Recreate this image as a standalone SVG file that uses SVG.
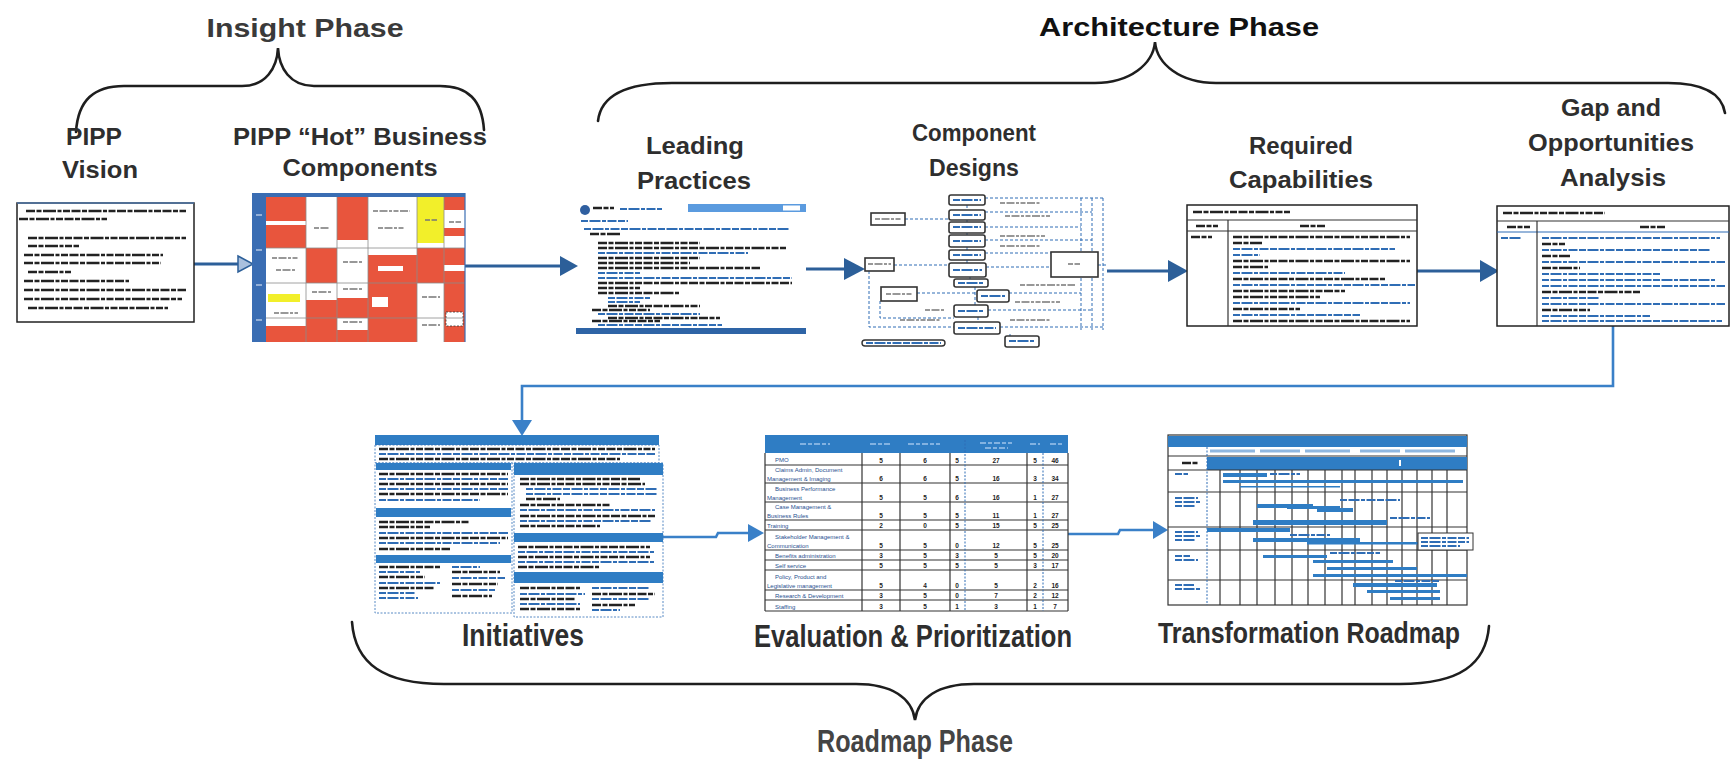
<svg xmlns="http://www.w3.org/2000/svg" width="1736" height="759" viewBox="0 0 1736 759">
<defs>
<style>
.lbl{font-family:"Liberation Sans",Arial,sans-serif;font-weight:bold;text-anchor:middle;fill:#2e2e2e}
.ph{font-family:"Liberation Sans",Arial,sans-serif;font-weight:bold;text-anchor:middle}
.brace{fill:none;stroke:#1e1e1e;stroke-width:2.6;stroke-linecap:round}
.c1{fill:none;stroke:#2c5f99;stroke-width:3}
.c2{fill:none;stroke:#3a80c8;stroke-width:2.6}
.h1{fill:#2c5f99}
.h2{fill:#3a80c8}
.tk{stroke:#222;stroke-width:2.4;stroke-dasharray:9 1.5 5 1.5 13 1.5 4 1.5 7 1.5}
.tb{stroke:#2f6db5;stroke-width:2.2;stroke-dasharray:7 1.5 11 1.5 4 1.5 9 1.5}
.tg{stroke:#777;stroke-width:1.6;stroke-dasharray:5 1.5 8 1.5 3 1.5}
.tw{stroke:#9fc3ea;stroke-width:1.6;stroke-dasharray:6 2 4 2}
.frame{fill:#fff;stroke:#222;stroke-width:1.5}
.grid{stroke:#333;stroke-width:1.2}
.dgrid{stroke:#2f6db5;stroke-width:1;stroke-dasharray:2 1.5}
.bb{fill:#2f7dc4}
.red{fill:#e8553d}
.yel{fill:#f2ef2a}
.box{fill:#fff;stroke:#333;stroke-width:1.6}
.dl{fill:none;stroke:#2f6db5;stroke-width:1;stroke-dasharray:3 2}
.num{font-family:"Liberation Sans",Arial,sans-serif;font-size:6.5px;font-weight:bold;fill:#1d1d1d;text-anchor:middle}
.rn{font-family:"Liberation Sans",Arial,sans-serif;font-size:6px;fill:#1f4f8f}
</style>
</defs>
<rect width="1736" height="759" fill="#fff"/>

<!-- Phase braces and titles -->
<g id="insight-phase">
<text class="ph" x="305" y="37" font-size="26" fill="#3a3a3a" textLength="197" lengthAdjust="spacingAndGlyphs">Insight Phase</text>
<path class="brace" d="M76,132 C78,100 94,86 124,86 L242,86 C266,86 277,68 278,48 C279,68 290,86 314,86 L440,86 C468,86 482,100 484,130"/>
</g>
<g id="architecture-phase">
<text class="ph" x="1179" y="36" font-size="26" fill="#111" textLength="280" lengthAdjust="spacingAndGlyphs">Architecture Phase</text>
<path class="brace" d="M598,121 C601,95 626,83 672,83 L1095,83 C1130,83 1153,64 1155,42 C1157,64 1180,83 1216,83 L1668,83 C1705,83 1722,95 1725,113"/>
</g>
<g id="roadmap-phase">
<path class="brace" d="M352,622 C355,664 384,684 444,684 L856,684 C892,684 912,698 915,720 C918,698 938,684 974,684 L1400,684 C1460,684 1486,664 1489,626"/>
<text class="ph" x="915" y="752" font-size="32" fill="#444" textLength="196" lengthAdjust="spacingAndGlyphs">Roadmap Phase</text>
</g>

<!-- Connectors -->
<g id="connectors">
<line class="c1" x1="194" y1="264" x2="240" y2="264"/>
<polygon points="238,256 253,264 238,272" fill="#a9c0de" stroke="#2c5f99" stroke-width="1.5"/>
<line class="c1" x1="465" y1="266" x2="562" y2="266"/>
<polygon class="h1" points="560,256 578,266 560,276"/>
<line class="c1" x1="806" y1="269" x2="846" y2="269"/>
<polygon class="h1" points="844,258 865,269 844,280"/>
<line class="c1" x1="1107" y1="271" x2="1170" y2="271"/>
<polygon class="h1" points="1168,260 1188,271 1168,282"/>
<line class="c1" x1="1417" y1="271" x2="1482" y2="271"/>
<polygon class="h1" points="1480,260 1499,271 1480,282"/>
<path class="c2" d="M1613,326 V386 H522 V422"/>
<polygon class="h2" points="512,420 522,436 532,420"/>
<path class="c2" d="M663,537 H716 L718,533 H750"/>
<polygon class="h2" points="748,524 764,533 748,542"/>
<path class="c2" d="M1068,534 H1118 L1120,530 H1155"/>
<polygon class="h2" points="1153,521 1168,530 1153,539"/>
</g>

<!-- PIPP Vision -->
<g id="pipp-vision">
<text class="lbl" x="94" y="145" font-size="24" textLength="56" lengthAdjust="spacingAndGlyphs">PIPP</text>
<text class="lbl" x="100" y="178" font-size="24" textLength="76" lengthAdjust="spacingAndGlyphs">Vision</text>
<rect class="frame" x="17" y="203" width="177" height="119"/>
<line x1="17" y1="203" x2="194" y2="203" stroke="#5078aa" stroke-width="1.5"/>
<line class="tk" x1="26" y1="211" x2="186" y2="211"/>
<line class="tk" x1="19" y1="219" x2="107" y2="219"/>
<line class="tk" x1="28" y1="238" x2="186" y2="238"/>
<line class="tk" x1="28" y1="246" x2="79" y2="246"/>
<line class="tk" x1="24" y1="255" x2="163" y2="255"/>
<line class="tk" x1="24" y1="263" x2="161" y2="263"/>
<line class="tk" x1="28" y1="272" x2="71" y2="272"/>
<line class="tk" x1="24" y1="281" x2="129" y2="281"/>
<line class="tk" x1="24" y1="290" x2="186" y2="290"/>
<line class="tk" x1="24" y1="299" x2="182" y2="299"/>
<line class="tk" x1="28" y1="308" x2="168" y2="308"/>
</g>

<!-- PIPP Hot Business Components -->
<g id="pipp-hot-components">
<text class="lbl" x="360" y="145" font-size="24" textLength="254" lengthAdjust="spacingAndGlyphs">PIPP “Hot” Business</text>
<text class="lbl" x="360" y="176" font-size="24" textLength="155" lengthAdjust="spacingAndGlyphs">Components</text>
<rect x="252" y="193" width="213" height="149" fill="#fff"/>
<rect class="red" x="266" y="197" width="40" height="51"/>
<rect x="266" y="221" width="40" height="4" fill="#fff"/>
<rect class="red" x="337" y="197" width="31" height="43"/>
<rect class="yel" x="417" y="197" width="27" height="46"/>
<rect class="red" x="444" y="197" width="21" height="13"/>
<rect class="red" x="444" y="228" width="21" height="8"/>
<rect class="red" x="306" y="248" width="31" height="35"/>
<rect class="red" x="368" y="255" width="49" height="28"/>
<rect class="red" x="417" y="248" width="27" height="35"/>
<rect class="red" x="444" y="248" width="21" height="17"/>
<rect class="red" x="444" y="271" width="21" height="12"/>
<rect x="378" y="266" width="25" height="5" fill="#fff"/>
<rect class="yel" x="268" y="294" width="32" height="8"/>
<rect class="red" x="306" y="300" width="31" height="18"/>
<rect class="red" x="337" y="298" width="31" height="20"/>
<rect class="red" x="368" y="283" width="49" height="35"/>
<rect x="372" y="297" width="16" height="10" fill="#fff"/>
<rect class="red" x="444" y="283" width="21" height="35"/>
<rect class="red" x="266" y="326" width="40" height="16"/>
<rect class="red" x="306" y="318" width="31" height="24"/>
<rect class="red" x="337" y="330" width="31" height="12"/>
<rect class="red" x="368" y="318" width="49" height="24"/>
<rect class="red" x="444" y="318" width="21" height="24"/>
<rect x="446" y="312" width="17" height="14" fill="#fff" stroke="#333" stroke-width="0.8" stroke-dasharray="2 1.5"/>
<g stroke="#8a8a8a" stroke-width="0.8">
<line x1="306" y1="197" x2="306" y2="342"/><line x1="337" y1="197" x2="337" y2="342"/>
<line x1="368" y1="197" x2="368" y2="342"/><line x1="417" y1="197" x2="417" y2="342"/>
<line x1="444" y1="197" x2="444" y2="342"/>
<line x1="266" y1="248" x2="465" y2="248"/><line x1="266" y1="283" x2="465" y2="283"/>
<line x1="266" y1="318" x2="465" y2="318"/>
</g>
<g class="tg">
<line x1="314" y1="228" x2="330" y2="228"/><line x1="373" y1="211" x2="410" y2="211"/><line x1="378" y1="228" x2="405" y2="228"/>
<line x1="272" y1="258" x2="298" y2="258"/><line x1="276" y1="270" x2="296" y2="270"/><line x1="343" y1="262" x2="362" y2="262"/>
<line x1="422" y1="297" x2="440" y2="297"/><line x1="422" y1="325" x2="440" y2="325"/><line x1="343" y1="289" x2="362" y2="289"/>
<line x1="274" y1="313" x2="298" y2="313"/><line x1="312" y1="292" x2="332" y2="292"/><line x1="343" y1="322" x2="362" y2="322"/>
<line x1="425" y1="220" x2="437" y2="220"/><line x1="449" y1="222" x2="461" y2="222"/>
</g>
<rect x="252" y="193" width="213" height="4" fill="#3a6db3"/>
<rect x="252" y="193" width="14" height="149" fill="#3a6db3"/>
<g stroke="#cfdcef" stroke-width="1.2"><line x1="256" y1="215" x2="262" y2="215"/><line x1="256" y1="250" x2="262" y2="250"/><line x1="256" y1="285" x2="262" y2="285"/><line x1="256" y1="320" x2="262" y2="320"/></g>
<line x1="465" y1="193" x2="465" y2="342" stroke="#3a6db3" stroke-width="1.2"/>
</g>

<!-- Leading Practices -->
<g id="leading-practices">
<text class="lbl" x="695" y="154" font-size="24" textLength="98" lengthAdjust="spacingAndGlyphs">Leading</text>
<text class="lbl" x="694" y="189" font-size="24" textLength="114" lengthAdjust="spacingAndGlyphs">Practices</text>
<circle cx="585" cy="210" r="5" fill="#2f5fa0"/>
<line class="tk" x1="593" y1="208" x2="614" y2="208" stroke-width="1.6"/>
<line class="tb" x1="620" y1="209" x2="662" y2="209" stroke-width="1.6"/>
<rect x="688" y="204" width="118" height="8" fill="#5b9bdf"/>
<rect x="783" y="205.5" width="17" height="5" fill="#fff"/>
<line class="tb" x1="581" y1="221" x2="628" y2="221" stroke-width="2.4"/>
<line class="tb" x1="584" y1="229" x2="790" y2="229"/>
<line class="tk" x1="590" y1="234" x2="620" y2="234" stroke-width="1.6"/>
<g>
<line class="tk" x1="598" y1="243" x2="700" y2="243" stroke-width="1.7"/>
<line class="tk" x1="598" y1="248" x2="786" y2="248" stroke-width="1.7"/>
<line class="tb" x1="598" y1="253" x2="748" y2="253" stroke-width="1.7"/>
<line class="tk" x1="598" y1="258" x2="700" y2="258" stroke-width="1.7"/>
<line class="tk" x1="598" y1="263" x2="690" y2="263" stroke-width="1.7"/>
<line class="tk" x1="598" y1="268" x2="760" y2="268" stroke-width="1.7"/>
<line class="tb" x1="598" y1="273" x2="640" y2="273" stroke-width="1.7"/>
<line class="tb" x1="598" y1="278" x2="792" y2="278" stroke-width="1.7"/>
<line class="tk" x1="598" y1="283" x2="792" y2="283" stroke-width="1.7"/>
<line class="tk" x1="598" y1="288" x2="640" y2="288" stroke-width="1.7"/>
<line class="tk" x1="598" y1="293" x2="680" y2="293" stroke-width="1.7"/>
<line class="tb" x1="608" y1="298" x2="650" y2="298" stroke-width="1.7"/>
<line class="tb" x1="608" y1="302" x2="640" y2="302" stroke-width="1.7"/>
<line class="tk" x1="608" y1="306" x2="700" y2="306" stroke-width="1.7"/>
<line class="tk" x1="592" y1="310" x2="650" y2="310" stroke-width="1.7"/>
<line class="tb" x1="598" y1="314" x2="700" y2="314" stroke-width="1.7"/>
<line class="tk" x1="608" y1="318" x2="720" y2="318" stroke-width="1.7"/>
<line class="tk" x1="592" y1="321" x2="660" y2="321" stroke-width="1.7"/>
<line class="tb" x1="598" y1="325" x2="722" y2="325" stroke-width="1.7"/>
</g>
<rect x="576" y="328" width="230" height="6" fill="#2e64a6"/>
</g>

<!-- Component Designs -->
<g id="component-designs">
<text class="lbl" x="974" y="141" font-size="24" textLength="124" lengthAdjust="spacingAndGlyphs">Component</text>
<text class="lbl" x="974" y="176" font-size="24" textLength="90" lengthAdjust="spacingAndGlyphs">Designs</text>
<g class="dl">
<path d="M985,198 H1103 M985,212 H1092 M985,227 H1081 M985,240 H1092 M985,253 H1051 M986,267 H1051 M1009,293 H1081 M988,310 H1092 M1000,327 H1103"/>
<path d="M1081,198 V330 M1092,198 V330 M1103,198 V330"/>
<path d="M905,219 H949 M894,265 H949 M917,293 H977 M869,271 V327 H954 M880,301 V318 H954"/>
<path d="M967,205 V210 M967,220 V222 M967,233 V235 M967,247 V250 M967,260 V263 M970,277 V279 M975,287 V305 M978,317 V322 M1010,334 V336"/>
<path d="M1098,265 H1107"/>
</g>
<rect class="box" x="949" y="195" width="36" height="10" rx="2"/>
<rect class="box" x="949" y="210" width="36" height="10" rx="2"/>
<rect class="box" x="949" y="222" width="36" height="11" rx="2"/>
<rect class="box" x="949" y="235" width="36" height="12" rx="2"/>
<rect class="box" x="949" y="250" width="36" height="10" rx="2"/>
<rect class="box" x="949" y="263" width="37" height="14" rx="2"/>
<rect class="box" x="954" y="279" width="34" height="8" rx="2"/>
<rect class="box" x="977" y="290" width="32" height="12" rx="2"/>
<rect class="box" x="954" y="305" width="34" height="12" rx="2"/>
<rect class="box" x="954" y="322" width="46" height="12" rx="2"/>
<rect class="box" x="1005" y="336" width="34" height="11" rx="2"/>
<rect class="box" x="871" y="213" width="34" height="12"/>
<rect class="box" x="865" y="258" width="29" height="13"/>
<rect class="box" x="881" y="287" width="36" height="14"/>
<rect class="box" x="1051" y="252" width="47" height="25"/>
<rect x="862" y="340" width="83" height="6" rx="3" fill="#fff" stroke="#333" stroke-width="1.4"/>
<g class="tb" stroke-width="1.2">
<line x1="953" y1="200" x2="981" y2="200"/><line x1="953" y1="215" x2="981" y2="215"/><line x1="953" y1="227" x2="981" y2="227"/>
<line x1="953" y1="241" x2="981" y2="241"/><line x1="953" y1="255" x2="981" y2="255"/><line x1="953" y1="270" x2="982" y2="270"/>
<line x1="958" y1="283" x2="984" y2="283"/><line x1="981" y1="296" x2="1005" y2="296"/><line x1="958" y1="311" x2="984" y2="311"/>
<line x1="958" y1="328" x2="996" y2="328"/><line x1="1009" y1="341" x2="1035" y2="341"/><line x1="866" y1="343" x2="941" y2="343"/>
</g>
<g class="tg" stroke-width="1.2">
<line x1="875" y1="219" x2="901" y2="219"/><line x1="868" y1="264" x2="891" y2="264"/><line x1="886" y1="294" x2="912" y2="294"/>
<line x1="1068" y1="264" x2="1080" y2="264"/>
<line x1="1000" y1="203" x2="1040" y2="203"/><line x1="1005" y1="216" x2="1050" y2="216"/><line x1="1000" y1="236" x2="1045" y2="236"/>
<line x1="1000" y1="246" x2="1040" y2="246"/><line x1="1020" y1="285" x2="1075" y2="285"/><line x1="1015" y1="302" x2="1060" y2="302"/>
<line x1="925" y1="310" x2="945" y2="310"/><line x1="900" y1="320" x2="940" y2="320"/><line x1="1010" y1="320" x2="1050" y2="320"/>
</g>
</g>

<!-- Required Capabilities -->
<g id="required-capabilities">
<text class="lbl" x="1301" y="154" font-size="24" textLength="104" lengthAdjust="spacingAndGlyphs">Required</text>
<text class="lbl" x="1301" y="188" font-size="24" textLength="144" lengthAdjust="spacingAndGlyphs">Capabilities</text>
<rect class="frame" x="1187" y="205" width="230" height="121"/>
<line class="tk" x1="1193" y1="212" x2="1290" y2="212" stroke-width="1.8"/>
<line class="grid" x1="1187" y1="220" x2="1417" y2="220" stroke-width="2"/>
<line class="tk" x1="1196" y1="226" x2="1218" y2="226" stroke-width="1.6"/>
<line class="tk" x1="1300" y1="226" x2="1325" y2="226" stroke-width="1.6"/>
<line class="grid" x1="1187" y1="231" x2="1417" y2="231"/>
<line class="grid" x1="1228" y1="220" x2="1228" y2="326"/>
<line class="tk" x1="1191" y1="237" x2="1212" y2="237" stroke-width="1.5"/>
<g>
<line class="tk" x1="1233" y1="237" x2="1410" y2="237" stroke-width="1.6"/>
<line class="tk" x1="1233" y1="243" x2="1262" y2="243" stroke-width="1.6"/>
<line class="tb" x1="1233" y1="249" x2="1395" y2="249" stroke-width="1.6"/>
<line class="tb" x1="1233" y1="255" x2="1260" y2="255" stroke-width="1.6"/>
<line class="tk" x1="1233" y1="261" x2="1410" y2="261" stroke-width="1.6"/>
<line class="tk" x1="1233" y1="267" x2="1268" y2="267" stroke-width="1.6"/>
<line class="tb" x1="1233" y1="273" x2="1345" y2="273" stroke-width="1.6"/>
<line class="tk" x1="1233" y1="279" x2="1385" y2="279" stroke-width="1.6"/>
<line class="tb" x1="1233" y1="285" x2="1415" y2="285" stroke-width="1.6"/>
<line class="tk" x1="1233" y1="291" x2="1345" y2="291" stroke-width="1.6"/>
<line class="tk" x1="1233" y1="297" x2="1320" y2="297" stroke-width="1.6"/>
<line class="tb" x1="1233" y1="303" x2="1410" y2="303" stroke-width="1.6"/>
<line class="tk" x1="1233" y1="309" x2="1300" y2="309" stroke-width="1.6"/>
<line class="tb" x1="1233" y1="315" x2="1360" y2="315" stroke-width="1.6"/>
<line class="tk" x1="1233" y1="321" x2="1410" y2="321" stroke-width="1.6"/>
</g>
</g>

<!-- Gap and Opportunities Analysis -->
<g id="gap-opportunities">
<text class="lbl" x="1611" y="116" font-size="24" fill="#111" textLength="100" lengthAdjust="spacingAndGlyphs">Gap and</text>
<text class="lbl" x="1611" y="151" font-size="24" textLength="166" lengthAdjust="spacingAndGlyphs">Opportunities</text>
<text class="lbl" x="1613" y="186" font-size="24" textLength="106" lengthAdjust="spacingAndGlyphs">Analysis</text>
<rect class="frame" x="1497" y="206" width="232" height="120"/>
<line class="tk" x1="1503" y1="213" x2="1605" y2="213" stroke-width="1.8"/>
<line class="grid" x1="1497" y1="221" x2="1729" y2="221" stroke-width="2"/>
<line class="tk" x1="1507" y1="227" x2="1530" y2="227" stroke-width="1.6"/>
<line class="tk" x1="1640" y1="227" x2="1665" y2="227" stroke-width="1.6"/>
<line x1="1497" y1="232" x2="1729" y2="232" stroke="#2f6db5" stroke-width="1.2"/>
<line class="grid" x1="1537" y1="221" x2="1537" y2="326"/>
<line class="tb" x1="1501" y1="238" x2="1522" y2="238" stroke-width="1.5"/>
<g>
<line class="tb" x1="1542" y1="238" x2="1720" y2="238" stroke-width="1.6"/>
<line class="tk" x1="1542" y1="244" x2="1565" y2="244" stroke-width="1.6"/>
<line class="tb" x1="1542" y1="250" x2="1710" y2="250" stroke-width="1.6"/>
<line class="tk" x1="1542" y1="256" x2="1570" y2="256" stroke-width="1.6"/>
<line class="tb" x1="1542" y1="262" x2="1725" y2="262" stroke-width="1.6"/>
<line class="tk" x1="1542" y1="268" x2="1580" y2="268" stroke-width="1.6"/>
<line class="tb" x1="1542" y1="274" x2="1660" y2="274" stroke-width="1.6"/>
<line class="tb" x1="1542" y1="280" x2="1715" y2="280" stroke-width="1.6"/>
<line class="tb" x1="1542" y1="286" x2="1725" y2="286" stroke-width="1.6"/>
<line class="tk" x1="1542" y1="292" x2="1640" y2="292" stroke-width="1.6"/>
<line class="tb" x1="1542" y1="298" x2="1600" y2="298" stroke-width="1.6"/>
<line class="tb" x1="1542" y1="304" x2="1725" y2="304" stroke-width="1.6"/>
<line class="tk" x1="1542" y1="310" x2="1590" y2="310" stroke-width="1.6"/>
<line class="tb" x1="1542" y1="316" x2="1650" y2="316" stroke-width="1.6"/>
<line class="tb" x1="1542" y1="321" x2="1722" y2="321" stroke-width="1.6"/>
</g>
</g>

<!-- Initiatives -->
<g id="initiatives">
<rect x="375" y="435" width="284" height="10" fill="#2f7dc4"/>
<rect x="375" y="445" width="284" height="18" fill="#fff" stroke="#2f6db5" stroke-width="0.8" stroke-dasharray="2 1.5"/>
<line class="tk" x1="379" y1="449" x2="655" y2="449" stroke-width="1.4"/>
<line class="tb" x1="379" y1="454" x2="655" y2="454" stroke-width="1.4"/>
<line class="tk" x1="379" y1="459" x2="620" y2="459" stroke-width="1.4"/>
<rect x="375" y="463" width="137" height="150" fill="#fff" stroke="#2f6db5" stroke-width="0.8" stroke-dasharray="2 1.5"/>
<rect x="514" y="463" width="149" height="154" fill="#fff" stroke="#2f6db5" stroke-width="0.8" stroke-dasharray="2 1.5"/>
<rect x="376" y="463" width="135" height="7" fill="#2f7dc4"/>
<rect x="376" y="508" width="135" height="9" fill="#2f7dc4"/>
<rect x="376" y="555" width="135" height="8" fill="#2f7dc4"/>
<rect x="514" y="463" width="149" height="12" fill="#2f7dc4"/>
<rect x="514" y="533" width="149" height="9" fill="#2f7dc4"/>
<rect x="514" y="572" width="149" height="11" fill="#2f7dc4"/>
<g>
<line class="tk" x1="379" y1="474" x2="508" y2="474" stroke-width="1.4"/>
<line class="tb" x1="379" y1="479" x2="508" y2="479" stroke-width="1.4"/>
<line class="tk" x1="379" y1="484" x2="508" y2="484" stroke-width="1.4"/>
<line class="tb" x1="379" y1="489" x2="508" y2="489" stroke-width="1.4"/>
<line class="tk" x1="379" y1="494" x2="508" y2="494" stroke-width="1.4"/>
<line class="tb" x1="379" y1="500" x2="480" y2="500" stroke-width="1.4"/>
<line class="tk" x1="379" y1="522" x2="470" y2="522" stroke-width="1.4"/>
<line class="tk" x1="379" y1="527" x2="430" y2="527" stroke-width="1.4"/>
<line class="tb" x1="379" y1="533" x2="508" y2="533" stroke-width="1.4"/>
<line class="tk" x1="379" y1="538" x2="508" y2="538" stroke-width="1.4"/>
<line class="tb" x1="379" y1="543" x2="500" y2="543" stroke-width="1.4"/>
<line class="tk" x1="379" y1="549" x2="450" y2="549" stroke-width="1.4"/>
<line class="tk" x1="379" y1="567" x2="440" y2="567" stroke-width="1.4"/>
<line class="tb" x1="379" y1="572" x2="420" y2="572" stroke-width="1.4"/>
<line class="tk" x1="379" y1="577" x2="425" y2="577" stroke-width="1.4"/>
<line class="tb" x1="379" y1="583" x2="440" y2="583" stroke-width="1.4"/>
<line class="tk" x1="379" y1="588" x2="435" y2="588" stroke-width="1.4"/>
<line class="tb" x1="379" y1="593" x2="415" y2="593" stroke-width="1.4"/>
<line class="tb" x1="379" y1="598" x2="418" y2="598" stroke-width="1.4"/>
<line class="tb" x1="452" y1="567" x2="480" y2="567" stroke-width="1.4"/>
<line class="tk" x1="452" y1="572" x2="500" y2="572" stroke-width="1.4"/>
<line class="tb" x1="452" y1="578" x2="505" y2="578" stroke-width="1.4"/>
<line class="tk" x1="452" y1="584" x2="498" y2="584" stroke-width="1.4"/>
<line class="tb" x1="452" y1="590" x2="495" y2="590" stroke-width="1.4"/>
<line class="tk" x1="452" y1="596" x2="492" y2="596" stroke-width="1.4"/>
<line class="tk" x1="520" y1="479" x2="640" y2="479" stroke-width="1.4"/>
<line class="tk" x1="520" y1="484" x2="645" y2="484" stroke-width="1.4"/>
<line class="tb" x1="526" y1="489" x2="658" y2="489" stroke-width="1.4"/>
<line class="tb" x1="526" y1="494" x2="658" y2="494" stroke-width="1.4"/>
<line class="tk" x1="526" y1="499" x2="560" y2="499" stroke-width="1.4"/>
<line class="tk" x1="520" y1="505" x2="610" y2="505" stroke-width="1.4"/>
<line class="tb" x1="520" y1="510" x2="655" y2="510" stroke-width="1.4"/>
<line class="tk" x1="520" y1="516" x2="655" y2="516" stroke-width="1.4"/>
<line class="tb" x1="520" y1="521" x2="652" y2="521" stroke-width="1.4"/>
<line class="tk" x1="520" y1="526" x2="600" y2="526" stroke-width="1.4"/>
<line class="tk" x1="518" y1="547" x2="650" y2="547" stroke-width="1.4"/>
<line class="tb" x1="518" y1="552" x2="655" y2="552" stroke-width="1.4"/>
<line class="tk" x1="518" y1="557" x2="650" y2="557" stroke-width="1.4"/>
<line class="tb" x1="518" y1="562" x2="655" y2="562" stroke-width="1.4"/>
<line class="tk" x1="518" y1="567" x2="600" y2="567" stroke-width="1.4"/>
<line class="tk" x1="520" y1="588" x2="580" y2="588" stroke-width="1.4"/>
<line class="tb" x1="520" y1="594" x2="585" y2="594" stroke-width="1.4"/>
<line class="tk" x1="520" y1="599" x2="575" y2="599" stroke-width="1.4"/>
<line class="tb" x1="520" y1="604" x2="580" y2="604" stroke-width="1.4"/>
<line class="tk" x1="520" y1="609" x2="580" y2="609" stroke-width="1.4"/>
<line class="tb" x1="592" y1="588" x2="650" y2="588" stroke-width="1.4"/>
<line class="tk" x1="592" y1="594" x2="655" y2="594" stroke-width="1.4"/>
<line class="tb" x1="592" y1="599" x2="650" y2="599" stroke-width="1.4"/>
<line class="tk" x1="592" y1="605" x2="635" y2="605" stroke-width="1.4"/>
<line class="tb" x1="592" y1="610" x2="620" y2="610" stroke-width="1.4"/>
</g>
<text class="lbl" x="523" y="646" font-size="31" fill="#111" textLength="122" lengthAdjust="spacingAndGlyphs">Initiatives</text>
</g>

<!-- Evaluation & Prioritization -->
<g id="evaluation-prioritization">
<rect x="765" y="435" width="303" height="18" fill="#2f7dc4"/>
<g class="tw">
<line x1="800" y1="444" x2="830" y2="444"/><line x1="870" y1="444" x2="892" y2="444"/><line x1="908" y1="444" x2="940" y2="444"/>
<line x1="980" y1="443" x2="1012" y2="443"/><line x1="985" y1="448" x2="1008" y2="448"/><line x1="1030" y1="444" x2="1040" y2="444"/><line x1="1050" y1="444" x2="1062" y2="444"/>
</g>
<rect x="765" y="453" width="303" height="158" fill="#fff"/>
<g class="grid">
<line x1="765" y1="465" x2="1068" y2="465"/><line x1="765" y1="483" x2="1068" y2="483"/><line x1="765" y1="502" x2="1068" y2="502"/>
<line x1="765" y1="520" x2="1068" y2="520"/><line x1="765" y1="530" x2="1068" y2="530"/><line x1="765" y1="550" x2="1068" y2="550"/>
<line x1="765" y1="560" x2="1068" y2="560"/><line x1="765" y1="570" x2="1068" y2="570"/><line x1="765" y1="590" x2="1068" y2="590"/>
<line x1="765" y1="600" x2="1068" y2="600"/><line x1="765" y1="611" x2="1068" y2="611"/>
<line x1="765" y1="453" x2="765" y2="611"/><line x1="862" y1="453" x2="862" y2="611"/><line x1="900" y1="453" x2="900" y2="611"/>
<line x1="950" y1="453" x2="950" y2="611"/><line x1="1027" y1="453" x2="1027" y2="611"/><line x1="1068" y1="453" x2="1068" y2="611"/>
</g>
<g class="dgrid"><line x1="965" y1="440" x2="965" y2="611"/><line x1="1043" y1="453" x2="1043" y2="611"/></g>
<text class="rn" x="775" y="462">PMO</text>
<text class="rn" x="775" y="472">Claims Admin, Document</text>
<text class="rn" x="767" y="481">Management &amp; Imaging</text>
<text class="rn" x="775" y="491">Business Performance</text>
<text class="rn" x="767" y="500">Management</text>
<text class="rn" x="775" y="509">Case Management &amp;</text>
<text class="rn" x="767" y="518">Business Rules</text>
<text class="rn" x="767" y="528">Training</text>
<text class="rn" x="775" y="539">Stakeholder Management &amp;</text>
<text class="rn" x="767" y="548">Communication</text>
<text class="rn" x="775" y="558">Benefits administration</text>
<text class="rn" x="775" y="568">Self service</text>
<text class="rn" x="775" y="579">Policy, Product and</text>
<text class="rn" x="767" y="588">Legislative management</text>
<text class="rn" x="775" y="598">Research &amp; Development</text>
<text class="rn" x="775" y="609">Staffing</text>
<g class="num">
<text x="881" y="463">5</text><text x="925" y="463">6</text><text x="957" y="463">5</text><text x="996" y="463">27</text><text x="1035" y="463">5</text><text x="1055" y="463">46</text>
<text x="881" y="481">6</text><text x="925" y="481">6</text><text x="957" y="481">5</text><text x="996" y="481">16</text><text x="1035" y="481">3</text><text x="1055" y="481">34</text>
<text x="881" y="500">5</text><text x="925" y="500">5</text><text x="957" y="500">6</text><text x="996" y="500">16</text><text x="1035" y="500">1</text><text x="1055" y="500">27</text>
<text x="881" y="518">5</text><text x="925" y="518">5</text><text x="957" y="518">5</text><text x="996" y="518">11</text><text x="1035" y="518">1</text><text x="1055" y="518">27</text>
<text x="881" y="528">2</text><text x="925" y="528">0</text><text x="957" y="528">5</text><text x="996" y="528">15</text><text x="1035" y="528">5</text><text x="1055" y="528">25</text>
<text x="881" y="548">5</text><text x="925" y="548">5</text><text x="957" y="548">0</text><text x="996" y="548">12</text><text x="1035" y="548">5</text><text x="1055" y="548">25</text>
<text x="881" y="558">3</text><text x="925" y="558">5</text><text x="957" y="558">3</text><text x="996" y="558">5</text><text x="1035" y="558">5</text><text x="1055" y="558">20</text>
<text x="881" y="568">5</text><text x="925" y="568">5</text><text x="957" y="568">5</text><text x="996" y="568">5</text><text x="1035" y="568">3</text><text x="1055" y="568">17</text>
<text x="881" y="588">5</text><text x="925" y="588">4</text><text x="957" y="588">0</text><text x="996" y="588">5</text><text x="1035" y="588">2</text><text x="1055" y="588">16</text>
<text x="881" y="598">3</text><text x="925" y="598">5</text><text x="957" y="598">0</text><text x="996" y="598">7</text><text x="1035" y="598">2</text><text x="1055" y="598">12</text>
<text x="881" y="609">3</text><text x="925" y="609">5</text><text x="957" y="609">1</text><text x="996" y="609">3</text><text x="1035" y="609">1</text><text x="1055" y="609">7</text>
</g>
<text class="lbl" x="913" y="647" font-size="31" fill="#474747" textLength="318" lengthAdjust="spacingAndGlyphs">Evaluation &amp; Prioritization</text>
</g>

<!-- Transformation Roadmap -->
<g id="transformation-roadmap">
<rect x="1168" y="435" width="299" height="170" fill="#fff" stroke="#333" stroke-width="1.2"/>
<rect x="1168" y="436" width="299" height="11" fill="#2f7dc4"/>
<g stroke="#8fb7e0" stroke-width="3"><line x1="1210" y1="451" x2="1255" y2="451"/><line x1="1260" y1="451" x2="1300" y2="451"/><line x1="1305" y1="451" x2="1350" y2="451"/><line x1="1360" y1="451" x2="1400" y2="451"/><line x1="1405" y1="451" x2="1455" y2="451"/></g>
<line class="grid" x1="1168" y1="456" x2="1467" y2="456"/>
<rect x="1207" y="457" width="260" height="13" fill="#2f7dc4"/>
<rect x="1399" y="460" width="2" height="6" fill="#fff"/>
<line class="tk" x1="1182" y1="463" x2="1198" y2="463" stroke-width="1.4"/>
<g class="grid">
<line x1="1168" y1="470" x2="1467" y2="470"/><line x1="1168" y1="492" x2="1467" y2="492"/><line x1="1168" y1="527" x2="1467" y2="527"/>
<line x1="1168" y1="550" x2="1467" y2="550"/><line x1="1168" y1="580" x2="1467" y2="580"/>
<line x1="1220" y1="470" x2="1220" y2="605"/><line x1="1240" y1="470" x2="1240" y2="605"/><line x1="1257" y1="470" x2="1257" y2="605"/>
<line x1="1275" y1="470" x2="1275" y2="605"/><line x1="1292" y1="470" x2="1292" y2="605"/><line x1="1308" y1="470" x2="1308" y2="605"/>
<line x1="1325" y1="470" x2="1325" y2="605"/><line x1="1342" y1="470" x2="1342" y2="605"/><line x1="1355" y1="470" x2="1355" y2="605"/>
<line x1="1372" y1="470" x2="1372" y2="605"/><line x1="1387" y1="470" x2="1387" y2="605"/><line x1="1402" y1="470" x2="1402" y2="605"/>
<line x1="1417" y1="470" x2="1417" y2="605"/><line x1="1432" y1="470" x2="1432" y2="605"/><line x1="1447" y1="470" x2="1447" y2="605"/>
</g>
<line class="dgrid" x1="1207" y1="447" x2="1207" y2="605"/>
<g class="tb" stroke-width="1.4">
<line x1="1175" y1="474" x2="1188" y2="474"/><line x1="1175" y1="498" x2="1198" y2="498"/><line x1="1175" y1="502" x2="1200" y2="502"/><line x1="1175" y1="506" x2="1196" y2="506"/>
<line x1="1175" y1="532" x2="1198" y2="532"/><line x1="1175" y1="536" x2="1200" y2="536"/><line x1="1175" y1="540" x2="1196" y2="540"/>
<line x1="1175" y1="556" x2="1190" y2="556"/><line x1="1175" y1="560" x2="1198" y2="560"/><line x1="1175" y1="585" x2="1194" y2="585"/><line x1="1175" y1="589" x2="1200" y2="589"/>
</g>
<g class="bb">
<rect x="1223" y="473" width="44" height="4"/><rect x="1223" y="480" width="240" height="3"/><rect x="1240" y="486" width="100" height="1.5"/>
<rect x="1257" y="504" width="56" height="4"/><rect x="1287" y="506" width="53" height="3"/><rect x="1317" y="508" width="36" height="4"/>
<rect x="1253" y="520" width="134" height="5"/><rect x="1207" y="528" width="83" height="4"/><rect x="1253" y="538" width="107" height="4"/>
<rect x="1307" y="542" width="113" height="2.5"/><rect x="1263" y="555" width="64" height="3"/><rect x="1313" y="560" width="80" height="3"/>
<rect x="1327" y="567" width="90" height="3"/><rect x="1313" y="574" width="154" height="3"/><rect x="1353" y="583" width="84" height="4"/>
<rect x="1367" y="590" width="73" height="3"/><rect x="1390" y="597" width="50" height="3"/>
</g>
<g class="tb" stroke-width="1.2">
<line x1="1270" y1="474" x2="1300" y2="474"/><line x1="1340" y1="500" x2="1400" y2="500"/><line x1="1390" y1="518" x2="1430" y2="518"/>
<line x1="1290" y1="535" x2="1330" y2="535"/><line x1="1330" y1="553" x2="1380" y2="553"/><line x1="1395" y1="581" x2="1440" y2="581"/>
</g>
<rect x="1418" y="533" width="55" height="17" fill="#fff" stroke="#333" stroke-width="1"/>
<g class="tb" stroke-width="1.4"><line x1="1421" y1="538" x2="1469" y2="538"/><line x1="1421" y1="542" x2="1469" y2="542"/><line x1="1421" y1="546" x2="1460" y2="546"/></g>
<text class="lbl" x="1309" y="643" font-size="30" fill="#111" textLength="302" lengthAdjust="spacingAndGlyphs">Transformation Roadmap</text>
</g>
</svg>
